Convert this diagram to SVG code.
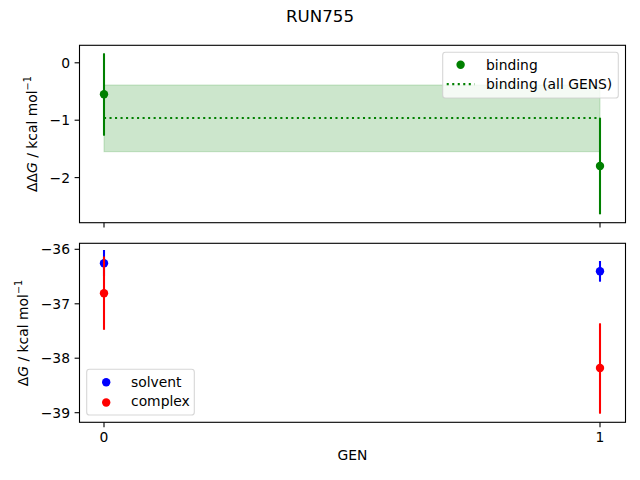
<svg xmlns="http://www.w3.org/2000/svg" width="640" height="480" viewBox="0 0 640 480">
<style>
text{font-family:"DejaVu Sans","Liberation Sans",sans-serif;font-size:13.89px;fill:#000}
.frame{fill:none;stroke:#000;stroke-width:1.1}
.tick{stroke:#000;stroke-width:1.1}
.yt{text-anchor:end}
.xt{text-anchor:middle}
.eg{stroke:#008000;stroke-width:2.08}
.eb{stroke:#0000ff;stroke-width:2.08}
.er{stroke:#ff0000;stroke-width:2.08}
.leg{fill:#fff;fill-opacity:0.8;stroke:#ccc;stroke-opacity:0.8;stroke-width:1.1}
</style>
<rect width="640" height="480" fill="#fff"/>
<text x="320" y="21.7" text-anchor="middle" style="font-size:16.67px">RUN755</text>

<g id="top-axes">
  <rect x="104" y="85" width="496" height="66.7" fill="#008000" fill-opacity="0.2" stroke="#008000" stroke-opacity="0.2" stroke-width="1"/>
  <line x1="104" y1="118" x2="600" y2="118" stroke="#008000" stroke-width="2.08" stroke-dasharray="2.08 3.43"/>
  <line class="eg" x1="104" y1="53.3" x2="104" y2="135.7"/>
  <circle cx="104" cy="94.3" r="4.2" fill="#008000"/>
  <line class="eg" x1="600" y1="117.7" x2="600" y2="214.3"/>
  <circle cx="600" cy="166" r="4.2" fill="#008000"/>
  <rect class="frame" x="79.5" y="45.3" width="546" height="177.4"/>
  <line class="tick" x1="79.5" y1="62.8" x2="74.6" y2="62.8"/>
  <line class="tick" x1="79.5" y1="120.2" x2="74.6" y2="120.2"/>
  <line class="tick" x1="79.5" y1="177.6" x2="74.6" y2="177.6"/>
  <line class="tick" x1="104" y1="222.7" x2="104" y2="227.6"/>
  <line class="tick" x1="600" y1="222.7" x2="600" y2="227.6"/>
  <text class="yt" x="70" y="67.8">0</text>
  <text class="yt" x="70" y="125.2">−1</text>
  <text class="yt" x="70" y="182.6">−2</text>
  <text transform="translate(37,134) rotate(-90)" text-anchor="middle">ΔΔ<tspan font-style="italic">G</tspan> / kcal mol<tspan dy="-6" style="font-size:9.7px">−1</tspan></text>
</g>

<g id="top-legend">
  <rect class="leg" x="442.7" y="52.3" width="175.6" height="45.7" rx="2.8"/>
  <circle cx="460.6" cy="64.7" r="4.2" fill="#008000"/>
  <text x="486" y="69.5">binding</text>
  <line x1="446.7" y1="84.1" x2="474.5" y2="84.1" stroke="#008000" stroke-width="2.08" stroke-dasharray="2.08 3.43"/>
  <text x="486" y="88.9">binding (all GENS)</text>
</g>

<g id="bottom-axes">
  <line class="eb" x1="104" y1="250" x2="104" y2="276.6"/>
  <circle cx="104" cy="263.3" r="4.2" fill="#0000ff"/>
  <line class="eb" x1="600" y1="261" x2="600" y2="281.7"/>
  <circle cx="600" cy="271.3" r="4.2" fill="#0000ff"/>
  <line class="er" x1="104" y1="256.5" x2="104" y2="329.8"/>
  <circle cx="104" cy="293.3" r="4.2" fill="#ff0000"/>
  <line class="er" x1="600" y1="323.3" x2="600" y2="413.7"/>
  <circle cx="600" cy="368" r="4.2" fill="#ff0000"/>
  <rect class="frame" x="79.5" y="243.3" width="546" height="179"/>
  <line class="tick" x1="79.5" y1="249.3" x2="74.6" y2="249.3"/>
  <line class="tick" x1="79.5" y1="303.8" x2="74.6" y2="303.8"/>
  <line class="tick" x1="79.5" y1="358.2" x2="74.6" y2="358.2"/>
  <line class="tick" x1="79.5" y1="412.7" x2="74.6" y2="412.7"/>
  <line class="tick" x1="104" y1="422.3" x2="104" y2="427.2"/>
  <line class="tick" x1="600" y1="422.3" x2="600" y2="427.2"/>
  <text class="yt" x="70" y="254.3">−36</text>
  <text class="yt" x="70" y="308.8">−37</text>
  <text class="yt" x="70" y="363.2">−38</text>
  <text class="yt" x="70" y="417.7">−39</text>
  <text class="xt" x="104" y="442">0</text>
  <text class="xt" x="600" y="442">1</text>
  <text class="xt" x="352.5" y="460">GEN</text>
  <text transform="translate(28,333) rotate(-90)" text-anchor="middle">Δ<tspan font-style="italic">G</tspan> / kcal mol<tspan dy="-6" style="font-size:9.7px">−1</tspan></text>
</g>

<g id="bottom-legend">
  <rect class="leg" x="86.7" y="369.3" width="107.6" height="45.7" rx="2.8"/>
  <circle cx="106.2" cy="382.3" r="4.2" fill="#0000ff"/>
  <text x="131" y="386.5">solvent</text>
  <circle cx="106.2" cy="402.5" r="4.2" fill="#ff0000"/>
  <text x="131" y="406">complex</text>
</g>
</svg>
